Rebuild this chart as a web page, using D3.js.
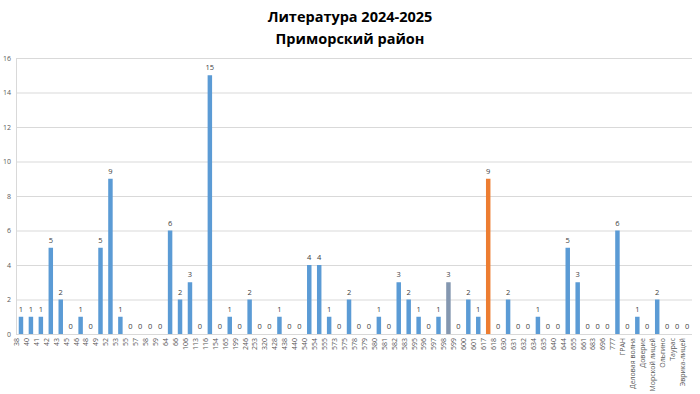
<!DOCTYPE html>
<html><head><meta charset="utf-8">
<script src="https://cdn.jsdelivr.net/npm/d3@7"></script>
<style>body{margin:0;background:#fff}svg{display:block}</style>
</head><body>
<script>
const categories = ["38","40","41","42","43","45","46","48","49","52","53","55","57","58","59","64","66","106","113","116","154","165","199","246","253","320","428","438","440","540","554","555","573","575","578","579","580","581","582","583","595","596","597","598","599","600","601","617","618","630","631","632","634","635","640","644","655","661","683","696","777","ГРАН","Деловая волна","Доверие","Морской лицей","Ольгино","Таурас","Эврика-лицей"];
const values = [1,1,1,5,2,0,1,0,5,9,1,0,0,0,0,6,2,3,0,15,0,1,0,2,0,0,1,0,0,4,4,1,0,2,0,0,1,0,3,2,1,0,1,3,0,2,1,9,0,2,0,0,1,0,0,5,3,0,0,0,6,0,1,0,2,0,0,0];
const yTicks = [0,2,4,6,8,10,12,14,16];
const titleLines = ["Литература 2024-2025","Приморский район"];
const highlight = {"617":"#ED7D31","598":"#8497B0"};

const W=700,H=394;
const m={left:16,right:8,top:58,bottom:60};
const svg=d3.select("body").append("svg").attr("width",W).attr("height",H);
const x=d3.scaleBand().domain(categories).range([m.left,W-m.right]).paddingInner(0.55).paddingOuter(0.275);
const y=d3.scaleLinear().domain([0,16]).range([H-m.bottom,m.top]);

svg.append("g").selectAll("line").data(yTicks).join("line")
  .attr("x1",m.left).attr("x2",W-m.right).attr("y1",d=>y(d)+0.5).attr("y2",d=>y(d)+0.5)
  .attr("stroke","#d9d9d9").attr("stroke-width",1);
svg.append("line").attr("x1",m.left+0.5).attr("x2",m.left+0.5).attr("y1",m.top).attr("y2",y(0))
  .attr("stroke","#d9d9d9");

const ya=svg.append("g").attr("transform",`translate(${m.left},0)`)
  .call(d3.axisLeft(y).tickValues(yTicks).tickSize(0).tickPadding(5));
ya.select(".domain").remove();
ya.selectAll("text").attr("font-family","Open Sans, sans-serif").attr("font-size",7).attr("fill","#595959");

svg.append("g").selectAll("rect").data(categories).join("rect")
  .attr("x",d=>x(d)).attr("width",x.bandwidth())
  .attr("y",(d,i)=>y(values[i])).attr("height",(d,i)=>y(0)-y(values[i]))
  .attr("fill",d=>highlight[d]||"#5B9BD5");

svg.append("g").selectAll("text").data(categories).join("text")
  .attr("x",d=>x(d)+x.bandwidth()/2).attr("y",(d,i)=>y(values[i])-5)
  .attr("text-anchor","middle").attr("font-family","Open Sans, sans-serif").attr("font-size",7.5).attr("fill","#404040")
  .text((d,i)=>values[i]);

const xa=svg.append("g").attr("transform",`translate(0,${y(0)})`)
  .call(d3.axisBottom(x).tickSize(0).tickPadding(4));
xa.select(".domain").remove();
xa.selectAll("text").attr("transform","rotate(-90)").attr("text-anchor","end")
  .attr("dx","-4").attr("dy","-0.3em").attr("y",0).attr("x",0)
  .attr("font-family","Open Sans, sans-serif").attr("font-size",7).attr("fill","#595959");

svg.append("g").selectAll("text").data(titleLines).join("text")
  .attr("x",350).attr("y",(d,i)=>22+i*21.5).attr("text-anchor","middle")
  .attr("font-family","Open Sans, sans-serif").attr("font-weight","bold").attr("font-size",14.5).attr("fill","#000")
  .text(d=>d);
</script>
</body></html>
